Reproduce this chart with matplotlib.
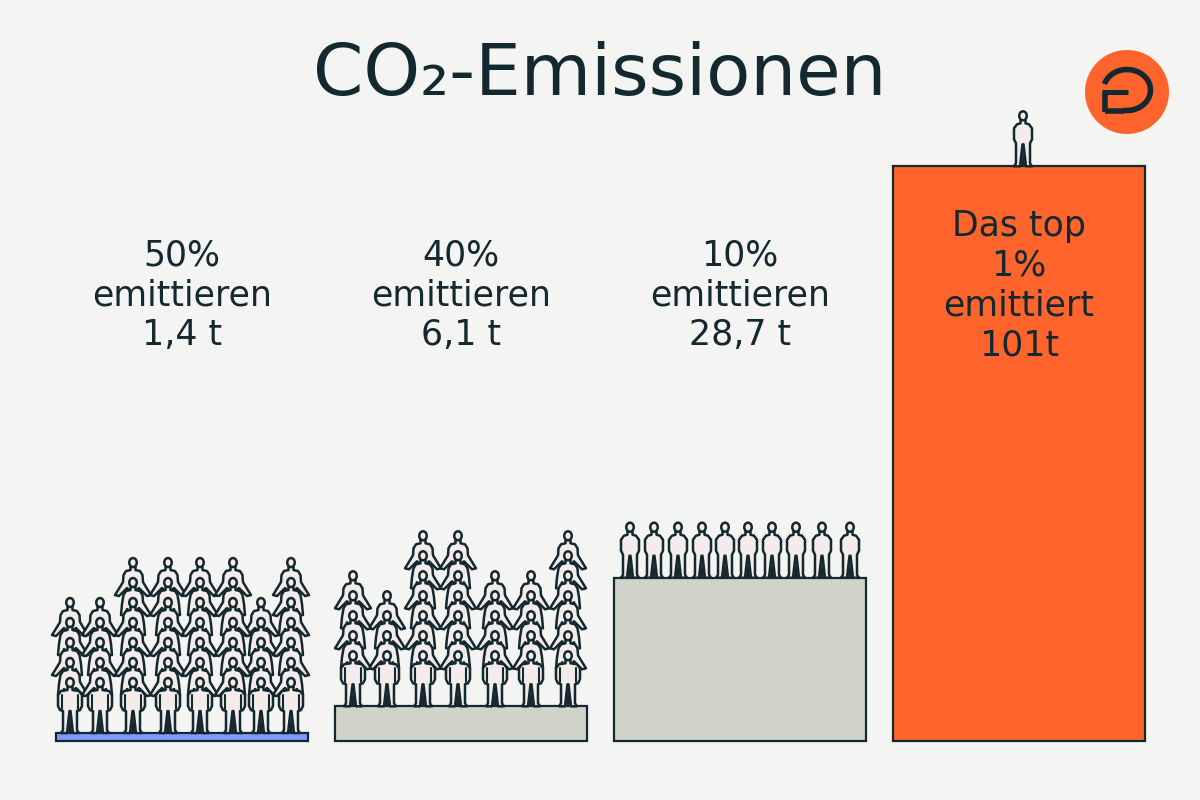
import matplotlib
matplotlib.use('Agg')
import matplotlib.pyplot as plt
from matplotlib.patches import Polygon, Ellipse, Arc, Circle

# Daten
groups = ['50%', '40%', '10%', '1%']
emissions = [1.4, 6.1, 28.7, 101]
stacks_50 = [5, 5, 7, 7, 7, 7, 5, 7]
stacks_40 = [5, 4, 7, 7, 5, 5, 7]
stacks_10 = [1, 1, 1, 1, 1, 1, 1, 1, 1, 1]
stacks_1 = [1]
stacks = [stacks_50, stacks_40, stacks_10, stacks_1]

# Layout (Pixel)
PX_X = 279.0
PX_T = 5.69
BASE_PX = 741
FIRST_PX = 182
STEP = 20
H = 55
LW = 1.8
col_offsets = [
    [-112, -82, -49, -14, 18, 51, 79, 109],
    [-108, -74, -38, -3, 34, 70, 107],
    [-110, -86, -62, -38, -15, 8, 32, 56, 82, 110],
    [4],
]

BG = '#F4F4F2'
DARK = '#14282F'
SKIN = '#F3ECEA'
ORANGE = '#FF642C'
bar_colors = ['#7F9BFF', '#D0D4C8', '#D0D4C8', ORANGE]

fig = plt.figure(figsize=(12, 8), dpi=100, facecolor=BG)
ax = fig.add_axes([0, 0, 1, 1])
ax.set_facecolor(BG)
ax.set_xlim(-FIRST_PX / PX_X, (1200 - FIRST_PX) / PX_X)
ax.set_ylim(-(800 - BASE_PX) / PX_T, BASE_PX / PX_T)
ax.axis('off')

ax.bar(range(len(emissions)), emissions, width=252 / PX_X, color=bar_colors,
       edgecolor=DARK, linewidth=1.6, zorder=1)


def to_data(points, bar, off, value, level):
    """Lokale Pixel (y nach unten, 0 = Scheitel) -> Datenkoordinaten."""
    res = []
    for lx, ly in points:
        res.append((bar + (off + lx) / PX_X, value + (H - ly + level * STEP) / PX_T))
    return res


def mirror(points):
    return [(-x, y) for x, y in reversed(points)]


def draw_head(bar, off, value, level, z):
    cx, cy = to_data([(0, 4.5)], bar, off, value, level)[0]
    ax.add_patch(Ellipse((cx, cy), 7.5 / PX_X, 9 / PX_T, fc=SKIN, ec=DARK, lw=LW, zorder=z))


def draw_standing(bar, off, value, level, z, arm):
    half = [(0, 8), (2.5, 9), (2.5, 12), (arm - 3, 13), (arm, 17), (arm, 28), (arm - 2, 32),
            (7, 33), (7, 52), (9, 55), (3, 55), (0.5, 33)]
    pts = half + mirror(half)
    ax.add_patch(Polygon(to_data(pts, bar, off, value, level), closed=True, fc=SKIN, ec=DARK,
                         lw=LW, joinstyle='round', zorder=z))
    wedge = [(-2, 55), (0, 38), (2, 55)]
    ax.add_patch(Polygon(to_data(wedge, bar, off, value, level), closed=True, fc=DARK, ec=DARK,
                         lw=0.5, zorder=z))
    if level == 0 and arm > 10:
        for sign in (-1, 1):
            line = to_data([(sign * (arm - 4), 17), (sign * (arm - 4), 31)], bar, off, value, level)
            ax.plot([p[0] for p in line], [p[1] for p in line], color=DARK, lw=1.5, zorder=z,
                    solid_capstyle='round')
    draw_head(bar, off, value, level, z)


# Beine der sitzenden Figuren: weit abgespreizt oder angelegt
LEG_WIDE = [(0, 8), (2.5, 9), (2.5, 12), (7, 13), (9.5, 17), (10, 24), (13, 29), (18, 37),
            (14, 38), (9, 33), (6, 30), (0, 36)]
LEG_TUCKED = [(0, 8), (2.5, 9), (2.5, 12), (7, 13), (9.5, 17), (11, 26), (12, 37),
              (7, 37), (6, 31), (0, 36)]


def draw_sitting(bar, off, value, level, z, left_wide, right_wide):
    right = LEG_WIDE if right_wide else LEG_TUCKED
    left = LEG_WIDE if left_wide else LEG_TUCKED
    pts = right + mirror(left)
    ax.add_patch(Polygon(to_data(pts, bar, off, value, level), closed=True, fc=SKIN, ec=DARK,
                         lw=LW, joinstyle='round', zorder=z))
    draw_head(bar, off, value, level, z)


for b, (value, cols) in enumerate(zip(emissions, stacks)):
    for c, count in enumerate(cols):
        off = col_offsets[b][c]
        for level in range(count - 1, -1, -1):
            z = 10 + (count - level)
            if level == 0:
                draw_standing(b, off, value, level, z, 12 if count > 1 else 9)
            else:
                # Wechsel der Beinhaltung, oben immer breit
                top = level == count - 1
                left_wide = top or (level + c) % 2 == 0
                right_wide = top or (level + c) % 2 == 1
                draw_sitting(b, off, value, level, z, left_wide, right_wide)

# Overlay in Pixeln für Logo und Texte
ov = fig.add_axes([0, 0, 1, 1], facecolor='none')
ov.set_xlim(0, 1200)
ov.set_ylim(800, 0)
ov.axis('off')

ov.add_patch(Circle((1127, 92), 42, fc=ORANGE, ec='none', zorder=20))
ov.add_patch(Arc((1127, 90), 47, 41, theta1=-165, theta2=100, ec=DARK, lw=4, zorder=21))
ov.plot([1102, 1128], [92, 92], color=DARK, lw=3.6, zorder=21, solid_capstyle='butt')
ov.plot([1105, 1105], [92, 112], color=DARK, lw=4, zorder=21, solid_capstyle='butt')
ov.plot([1105, 1124], [110.5, 110.5], color=DARK, lw=4, zorder=21, solid_capstyle='butt')

ov.text(600, 76, 'CO₂-Emissionen', fontsize=52, color=DARK, ha='center', va='center', zorder=30)

labels = [
    (182, ['50%', 'emittieren', '1,4 t'], [255, 295, 335]),
    (461, ['40%', 'emittieren', '6,1 t'], [255, 295, 335]),
    (740, ['10%', 'emittieren', '28,7 t'], [255, 295, 335]),
    (1019, ['Das top', '1%', 'emittiert', '101t'], [226, 265, 305, 345]),
]
for x, lines, ys in labels:
    for line, y in zip(lines, ys):
        ov.text(x, y, line, fontsize=25, color=DARK, ha='center', va='center', zorder=30)

fig.savefig('out.png', dpi=100, facecolor=BG)
